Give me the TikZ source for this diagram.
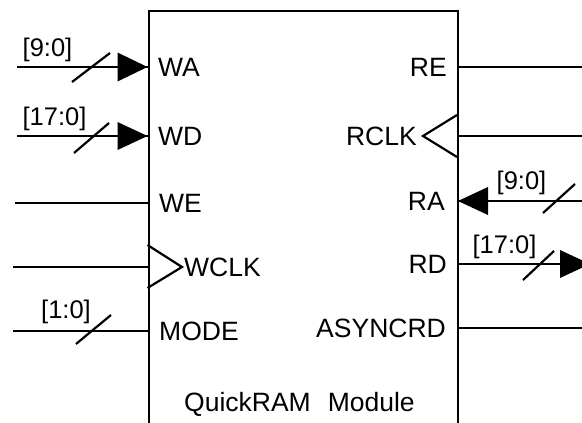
\documentclass[tikz,border=0pt]{standalone}
\usepackage{fontspec}
\setmainfont{Liberation Sans}
\begin{document}
\begin{tikzpicture}[x=1pt,y=-1pt,
  wire/.style={line width=2.2pt},
  tickmark/.style={line width=2.2pt},
  head/.style={fill=black},
  lbl/.style={font=\fontsize{26.5}{30}\selectfont, inner sep=0pt},
  buslbl/.style={font=\fontsize{25.5}{30}\selectfont, inner sep=0pt}]
\useasboundingbox (0,0) rectangle (582,423);
\clip (0,0) rectangle (582,423);
% module box (open at the bottom of the picture)
\node[draw, line width=2.3pt, minimum width=309.5pt, minimum height=450pt,
      anchor=north west, inner sep=0pt] (box) at (147.5,10) {};
% ports on the box
\coordinate (wa) at (147.5,67);
\coordinate (wd) at (147.5,136);
\coordinate (we) at (147.5,203);
\coordinate (wclk) at (147.5,267);
\coordinate (mode) at (147.5,331);
\coordinate (re) at (457,67);
\coordinate (rclk) at (457,136);
\coordinate (ra) at (457,201);
\coordinate (rd) at (457,264);
\coordinate (async) at (457,328);
% free ends
\coordinate (waL) at (17,67);
\coordinate (wdL) at (17,136);
\coordinate (weL) at (15,203);
\coordinate (wclkL) at (13,267);
\coordinate (modeL) at (13,331);
\coordinate (reR) at (582,67);
\coordinate (rclkR) at (582,136);
\coordinate (raR) at (582,201);
\coordinate (rdR) at (560,264);
\coordinate (asyncR) at (582,328);
% wires
\draw[wire] (waL) -- (wa);
\draw[wire] (wdL) -- (wd);
\draw[wire] (weL) -- (we);
\draw[wire] (wclkL) -- (wclk);
\draw[wire] (modeL) -- (mode);
\draw[wire] (re) -- (reR);
\draw[wire] (rclk) -- (rclkR);
\draw[wire] (raR) -- (ra);
\draw[wire] (rd) -- (rdR);
\draw[wire] (async) -- (asyncR);
% arrowheads
\fill[head] (wa) -- ++(-30,-14.5) -- ++(0,29) -- cycle;
\fill[head] (wd) -- ++(-30,-14) -- ++(0,28) -- cycle;
\fill[head] (ra) ++(1,0) -- ++(30,-14) -- ++(0,28) -- cycle;
\fill[head] (rdR) -- ++(0,-14) -- ++(30,14) -- ++(-30,14) -- cycle;
% clock inputs
\draw[wire, line join=miter] (147.5,245) -- (182,267) -- (147.5,288);
\draw[wire, line join=miter] (457,115) -- (423,136) -- (457,157);
% bus slashes
\draw[tickmark] (72,82) -- (110,53);
\draw[tickmark] (74,153) -- (109,123);
\draw[tickmark] (76,344) -- (111,315);
\draw[tickmark] (543,213) -- (575,184);
\draw[tickmark] (523,280) -- (554,251);
% bus labels
\node[buslbl] (bwa) at (47.5,50) {[9:0]};
\node[buslbl] (bwd) at (54.5,119) {[17:0]};
\node[buslbl] (bmode) at (66,312) {[1:0]};
\node[buslbl] (bra) at (521.5,183) {[9:0]};
\node[buslbl] (brd) at (504.5,247) {[17:0]};
% port labels
\node[lbl, anchor=west] (twa) at (158,67) {WA};
\node[lbl, anchor=west] (twd) at (158,136) {WD};
\node[lbl, anchor=west] (twe) at (159,203) {WE};
\node[lbl, anchor=west] (twclk) at (184,267) {WCLK};
\node[lbl, anchor=west] (tmode) at (159,331) {MODE};
\node[lbl, anchor=east] (tre) at (447,67) {RE};
\node[lbl, anchor=east] (trclk) at (417,136) {RCLK};
\node[lbl, anchor=east] (tra) at (445,201) {RA};
\node[lbl, anchor=east] (trd) at (447,264) {RD};
\node[lbl, anchor=east] (tasync) at (446,328) {ASYNCRD};
\node[lbl, anchor=base west] (title) at (184,411) {QuickRAM\hspace{17pt}Module};
\end{tikzpicture}
\end{document}
